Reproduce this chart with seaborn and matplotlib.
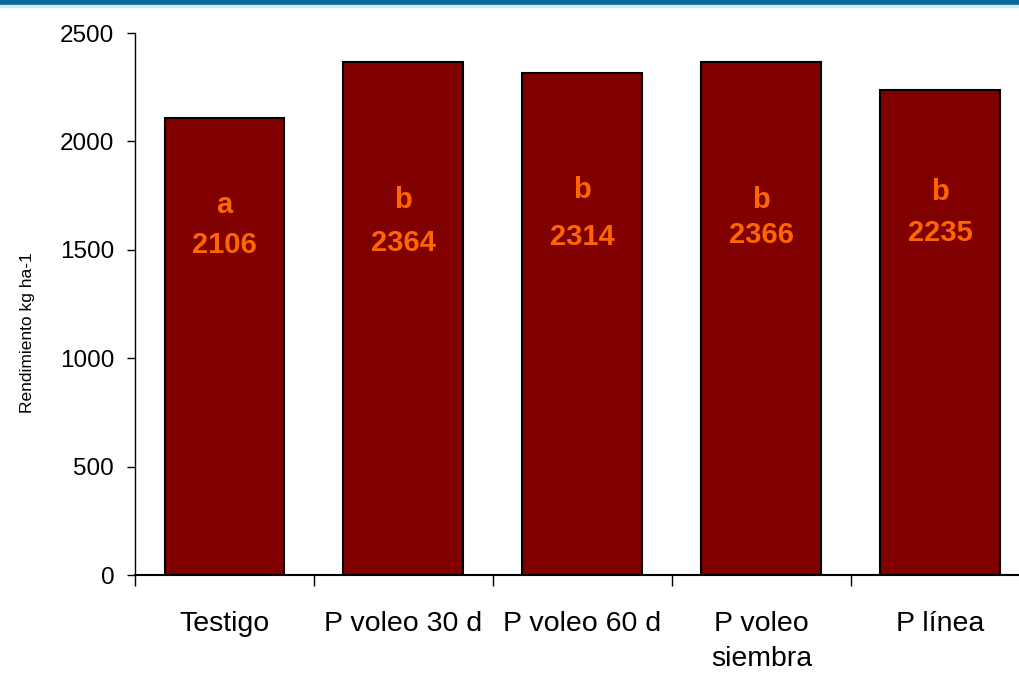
import matplotlib
matplotlib.use("Agg")
import matplotlib.pyplot as plt
import seaborn as sns
import pandas as pd
from matplotlib.patches import Rectangle

# data
tratamientos = ["Testigo", "P voleo 30 d", "P voleo 60 d", "P voleo\nsiembra", "P línea"]
rendimiento = [2106, 2364, 2314, 2366, 2235]
letras = ["a", "b", "b", "b", "b"]
# heights (kg/ha) where the letter / value labels sit inside each bar
letra_y = [1707, 1730, 1776, 1730, 1767]
valor_y = [1522, 1531, 1559, 1568, 1577]

sns.set_style("white")
plt.rcParams['font.family'] = ['Liberation Sans', 'DejaVu Sans']
plt.rcParams['text.color'] = 'black'
plt.rcParams['xtick.color'] = 'black'
plt.rcParams['ytick.color'] = 'black'
plt.rcParams['axes.labelcolor'] = 'black'

df = pd.DataFrame({"trat": tratamientos, "rend": rendimiento})

fig = plt.figure(figsize=(10.19, 6.76), dpi=100)
ax = fig.add_axes([135/1019, 1 - 575/676, 1 - 135/1019, (575 - 33)/676])

sns.barplot(data=df, x="trat", y="rend", ax=ax, color="#800000", saturation=1,
            width=0.67, edgecolor="black", linewidth=1.5)

for i, (l, v) in enumerate(zip(letras, rendimiento)):
    ax.text(i, letra_y[i], l, ha="center", va="center", color="#FF6600",
            fontsize=21, fontweight="bold")
    ax.text(i, valor_y[i], str(v), ha="center", va="center", color="#FF6600",
            fontsize=21, fontweight="bold")

ax.set_ylim(0, 2500)
ax.set_xlim(-0.5, 4.44)
ax.set_yticks([0, 500, 1000, 1500, 2000, 2500])
ax.tick_params(axis="y", direction="out", length=6, width=1, labelsize=17.5, pad=9, left=True)
ax.tick_params(axis="x", which="major", length=0, labelsize=20.5, pad=26)
ax.set_xticks([-0.5, 0.5, 1.5, 2.5, 3.5], minor=True)
ax.tick_params(axis="x", which="minor", direction="out", length=8, width=1, bottom=True)
for lbl in ax.get_xticklabels():
    lbl.set_linespacing(1.45)

ax.set_xlabel("")
ax.set_ylabel("Rendimiento kg ha-1", fontsize=12.5)
ax.yaxis.set_label_coords(-0.113, 0.448)

for s in ["top", "right"]:
    ax.spines[s].set_visible(False)
ax.spines["left"].set_color("black")
ax.spines["left"].set_linewidth(1)
ax.spines["bottom"].set_color("black")
ax.spines["bottom"].set_linewidth(1.5)

# blue band at the top of the slide
fig.patches.append(Rectangle((0, 1 - 5/676), 1, 5/676, transform=fig.transFigure,
                             color="#0A6798", zorder=5))
fig.patches.append(Rectangle((0, 1 - 7/676), 1, 2/676, transform=fig.transFigure,
                             color="#D6E8F2", zorder=5))

fig.savefig("out.png", dpi=100)
